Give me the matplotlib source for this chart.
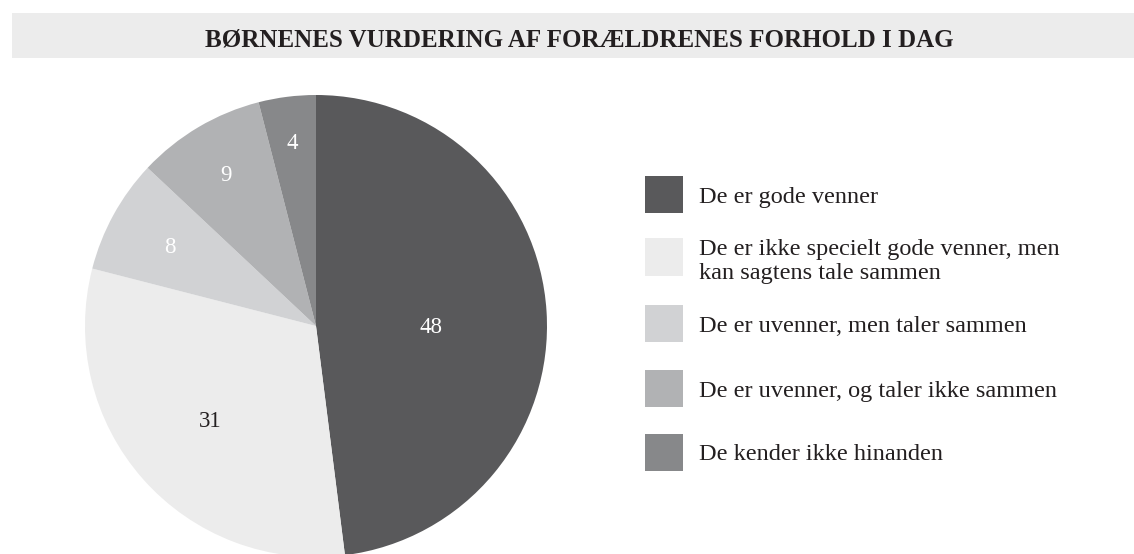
import numpy as np
import matplotlib.pyplot as plt
from matplotlib.patches import Rectangle

# data
categories = [
    "De er gode venner",
    "De er ikke specielt gode venner, men\nkan sagtens tale sammen",
    "De er uvenner, men taler sammen",
    "De er uvenner, og taler ikke sammen",
    "De kender ikke hinanden",
]
values = [48, 31, 8, 9, 4]
colors = ["#59595b", "#ececec", "#d1d2d4", "#b1b2b4", "#87888a"]
label_colors = ["white", "#231f20", "white", "white", "white"]
label_radius = [0.5, 0.61, 0.72, 0.765, 0.805]
label_turn = [-3.6, 0, 0, 0, 0]  # degrees, nudge off the wedge middle

title = "BØRNENES VURDERING AF FORÆLDRENES FORHOLD I DAG"

plt.rcParams['font.family'] = ['Liberation Serif', 'DejaVu Serif']

W, H = 1134, 554
fig = plt.figure(figsize=(W / 100, H / 100), dpi=100)


def fy(y):
    # pixel row (from top) -> figure fraction
    return 1 - y / H


# title bar
fig.add_artist(Rectangle((12 / W, fy(58)), 1 - 12 / W, 45 / H,
                         transform=fig.transFigure, facecolor="#ececec",
                         edgecolor="none"))
fig.text(579.5 / W, fy(46.5), title, ha="center", va="baseline",
         fontsize=18, fontweight="bold", color="#231f20")

# pie
r_px = 231
cx, cy = 316, 326
ax = fig.add_axes([(cx - r_px) / W, fy(cy + r_px), 2 * r_px / W, 2 * r_px / H])
wedges, _ = ax.pie(values, colors=colors, startangle=90, counterclock=False,
                   radius=1.0, wedgeprops=dict(linewidth=0))
ax.set_xlim(-1, 1)
ax.set_ylim(-1, 1)
ax.set_aspect("equal")
ax.axis("off")

digit_half = 7.5 / r_px  # half digit height, in pie units
for w, v, c, lr, turn in zip(wedges, values, label_colors, label_radius, label_turn):
    mid = np.deg2rad((w.theta1 + w.theta2) / 2 + turn)
    ax.text(lr * np.cos(mid), lr * np.sin(mid) - digit_half, str(v),
            ha="center", va="baseline", fontsize=16.5, color=c)

# legend
legend_y = [194.5, 257, 323, 388, 452]
line_step = 23.3
for cat, col, y in zip(categories, colors, legend_y):
    fig.add_artist(Rectangle((645 / W, fy(y + 18.5)), 38 / W, 37 / H,
                             transform=fig.transFigure, facecolor=col,
                             edgecolor="none"))
    lines = cat.split("\n")
    base = y + 8.5 if len(lines) == 1 else y - 1.5
    for i, line in enumerate(lines):
        fig.text(699 / W, fy(base + i * line_step), line, ha="left",
                 va="baseline", fontsize=17.5, color="#231f20")

fig.savefig("out.png", dpi=100)
